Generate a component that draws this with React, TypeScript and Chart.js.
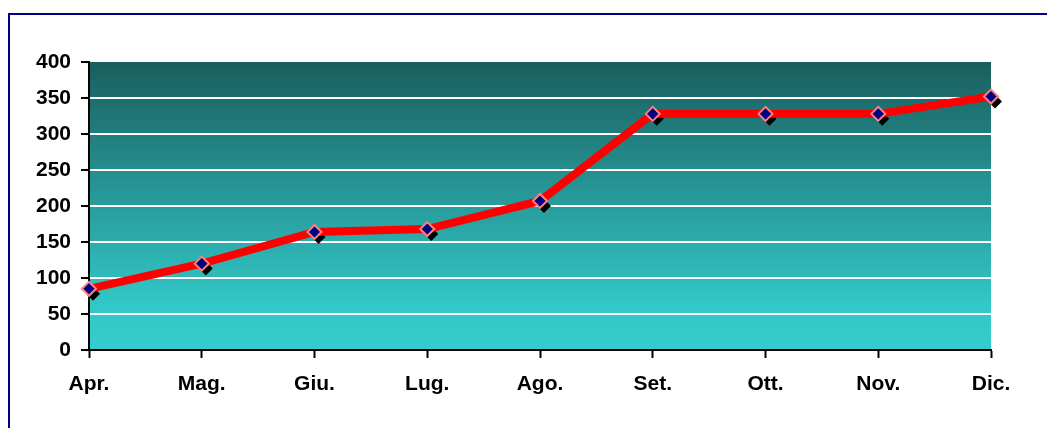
import React, { useEffect, useRef } from "react";
import { Chart, registerables } from "chart.js";

Chart.register(...registerables);

const categories = ["Apr.", "Mag.", "Giu.", "Lug.", "Ago.", "Set.", "Ott.", "Nov.", "Dic."];
const values = [85, 120, 164, 168, 207, 328, 328, 328, 352];
const yTicks = [0, 50, 100, 150, 200, 250, 300, 350, 400];

const bgPlugin = {
  id: "bgPlugin",
  beforeDraw(chart: any) {
    const { ctx, chartArea } = chart;
    const { left, top, right, bottom } = chartArea;
    ctx.save();
    ctx.fillStyle = "#ffffff";
    ctx.fillRect(0, 0, chart.width, chart.height);
    const g = ctx.createLinearGradient(0, top, 0, bottom);
    g.addColorStop(0, "#1a5e5e");
    g.addColorStop(0.85, "#33c8c8");
    g.addColorStop(1, "#33cccc");
    ctx.fillStyle = g;
    ctx.fillRect(left, top, right - left, bottom - top);
    ctx.strokeStyle = "#000080";
    ctx.lineWidth = 2;
    ctx.strokeRect(9, 14, 1200, 600);
    ctx.restore();
  },
  beforeDatasetsDraw(chart: any) {
    const { ctx } = chart;
    const meta = chart.getDatasetMeta(0);
    ctx.save();
    ctx.fillStyle = "#000000";
    meta.data.forEach((p: any) => {
      const x = p.x + 4;
      const y = p.y + 5;
      const r = 7;
      ctx.beginPath();
      ctx.moveTo(x, y - r);
      ctx.lineTo(x + r, y);
      ctx.lineTo(x, y + r);
      ctx.lineTo(x - r, y);
      ctx.closePath();
      ctx.fill();
    });
    ctx.restore();
  },
};

export default function App() {
  const ref = useRef<HTMLCanvasElement>(null);
  useEffect(() => {
    if (!ref.current) return;
    const chart = new Chart(ref.current, {
      type: "line",
      data: {
        labels: categories,
        datasets: [
          {
            data: values,
            borderColor: "#ff0000",
            borderWidth: 8,
            pointStyle: "rectRot",
            pointRadius: 7,
            pointBackgroundColor: "#000080",
            pointBorderColor: "#ff8080",
            pointBorderWidth: 2,
            tension: 0,
          },
        ],
      },
      options: {
        animation: false,
        responsive: false,
        maintainAspectRatio: false,
        layout: { padding: { left: 0, right: 56, top: 62, bottom: 0 } },
        plugins: { legend: { display: false }, tooltip: { enabled: false } },
        scales: {
          x: {
            offset: false,
            grid: {
              drawOnChartArea: false,
              tickColor: "#000000",
              tickLength: 8,
              tickWidth: 2,
            },
            border: { color: "#000000", width: 2 },
            ticks: {
              color: "#000000",
              padding: 14,
              maxRotation: 0,
              autoSkip: false,
              font: { family: "Liberation Sans", size: 21, weight: "bold" },
            },
            afterFit(scale: any) {
              scale.height = 78;
            },
          },
          y: {
            min: 0,
            max: 400,
            afterBuildTicks(scale: any) {
              scale.ticks = yTicks.map((v) => ({ value: v }));
            },
            grid: {
              color: (c: any) =>
                c.tick && (c.tick.value === 0 || c.tick.value === 400) ? "rgba(0,0,0,0)" : "#ffffff",
              lineWidth: 2,
              tickColor: "#000000",
              tickLength: 8,
              tickWidth: 2,
            },
            border: { color: "#000000", width: 2 },
            ticks: {
              color: "#000000",
              padding: 10,
              autoSkip: false,
              font: { family: "Liberation Sans", size: 21, weight: "bold" },
            },
            afterFit(scale: any) {
              scale.width = 89;
            },
          },
        },
      },
      plugins: [bgPlugin],
    });
    return () => chart.destroy();
  }, []);
  return (
    <div style={{ position: "absolute", left: 0, top: 0, width: 1047, height: 428 }}>
      <canvas ref={ref} width={1047} height={428} style={{ display: "block", width: 1047, height: 428 }} />
    </div>
  );
}
